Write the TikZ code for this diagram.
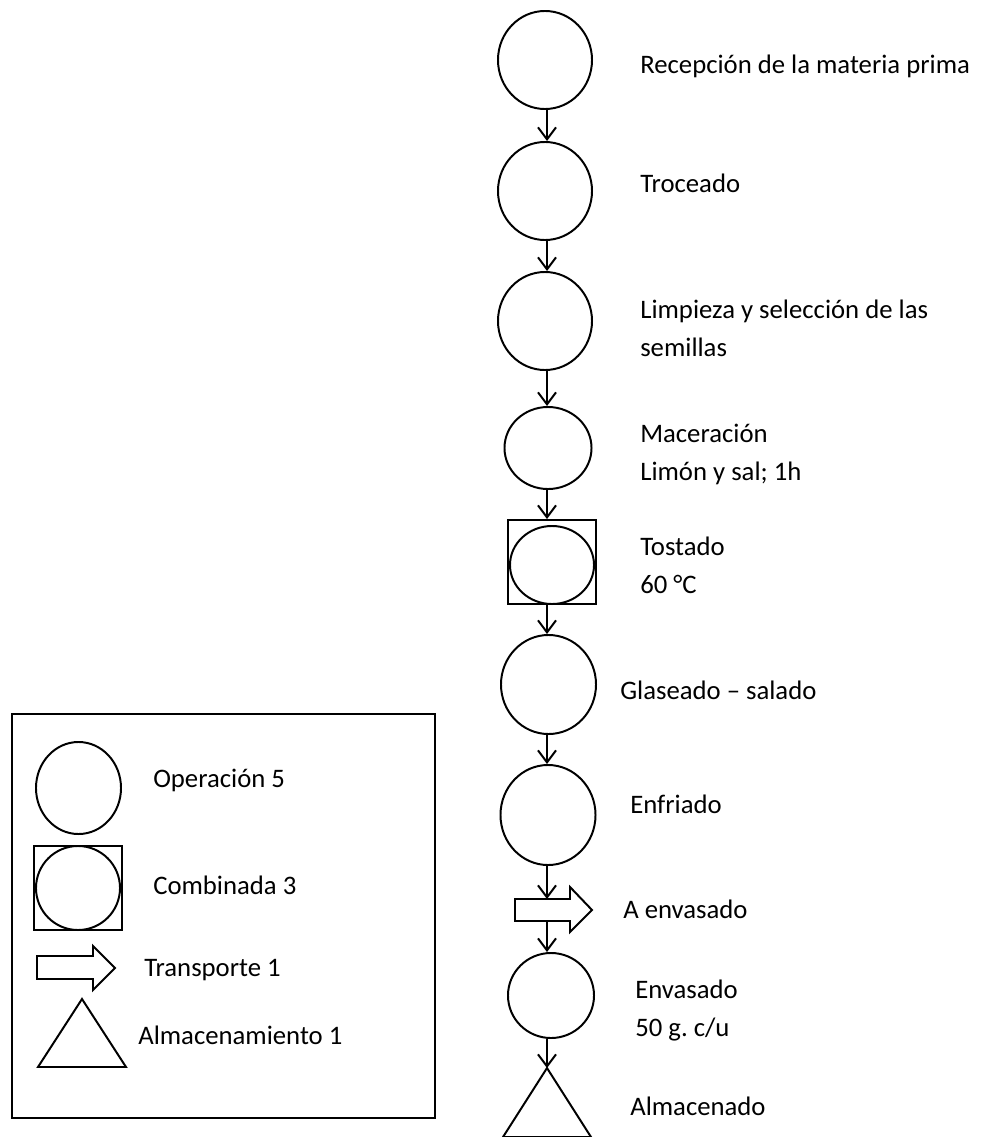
\documentclass[tikz,border=0pt]{standalone}
\usepackage{fontspec}
\setmainfont{Carlito}
\usetikzlibrary{arrows.meta,shapes.geometric}
\frenchspacing
\tikzset{
  oper/.style={draw, ellipse, line width=1.4pt, inner sep=0pt},
  caja/.style={draw, rectangle, line width=1.4pt, inner sep=0pt},
  forma/.style={draw, line width=1.4pt, line join=miter},
  flecha/.style={line width=1.4pt, -{Straight Barb[length=0.3cm,width=0.45cm]}},
  etiq/.style={anchor=base west, inner sep=0pt, align=left,
    font=\fontsize{19}{27}\selectfont},
}
\begin{document}
\begin{tikzpicture}[x=0.025cm, y=-0.025cm]
\useasboundingbox (0,0) rectangle (1006,1137);
\clip (0,0) rectangle (1006,1137);
\coordinate (eje) at (547,0);
% diagrama de flujo
\node[oper, minimum width=2.35cm, minimum height=2.45cm] (recep) at (545,60) {};
\node[oper, minimum width=2.35cm, minimum height=2.45cm] (troc) at (545,191) {};
\node[oper, minimum width=2.35cm, minimum height=2.45cm] (limp) at (545,321) {};
\node[oper, minimum width=2.175cm, minimum height=2.05cm] (mac) at (548,448) {};
\node[caja, minimum width=2.2cm, minimum height=2.1cm] (tost) at (552,562) {};
\node[oper, minimum width=2.1cm, minimum height=1.95cm] (tostc) at (552,565) {};
\node[oper, minimum width=2.375cm, minimum height=2.475cm] (glas) at (548.5,684.5) {};
\node[oper, minimum width=2.375cm, minimum height=2.5cm] (enfr) at (548,815) {};
\draw[forma] (515,899) -- (570,899) -- (570,887) -- (592,910) -- (570,932) -- (570,921) -- (515,921) -- cycle;
\coordinate (transIn) at (547,899);
\coordinate (transOut) at (547,921);
\node[oper, minimum width=2.15cm, minimum height=2.125cm] (envas) at (551,995.5) {};
\draw[forma] (547,1068) -- (591,1137) -- (503,1137) -- cycle;
\coordinate (almac) at (547,1068);
\foreach \a/\b in {recep/troc, troc/limp, limp/mac, mac/tost, tost/glas, glas/enfr}
  \draw[flecha] (\a.south -| eje) -- (\b.north -| eje);
\draw[flecha] (enfr.south -| eje) -- (transIn);
\draw[flecha] (transOut) -- (envas.north -| eje);
\draw[flecha] (envas.south -| eje) -- (almac);
% textos
\node[etiq] (tRecep) at (640,73) {Recepción de la materia prima};
\node[etiq] (tTroc) at (640,192) {Troceado};
\node[etiq] (tLimp) at (640,356) {Limpieza y selección de las\\semillas};
\node[etiq] (tMac) at (640,480) {Maceración\\Limón y sal; 1h};
\node[etiq] (tTost) at (640,593) {Tostado\\60 °C};
\node[etiq] (tGlas) at (620,699) {Glaseado – salado};
\node[etiq] (tEnfr) at (630,813) {Enfriado};
\node[etiq] (tTrans) at (623,918) {A envasado};
\node[etiq] (tEnvas) at (635,1036) {Envasado\\50 g. c/u};
\node[etiq] (tAlmac) at (630,1115) {Almacenado};
% leyenda
\node[caja, minimum width=10.575cm, minimum height=10.1cm] (leyenda) at (223.5,916) {};
\node[oper, minimum width=2.125cm, minimum height=2.3cm] (lOper) at (78.5,788) {};
\node[caja, minimum width=2.2cm, minimum height=2.1cm] (lComb) at (78,888) {};
\node[oper, minimum width=2.1cm, minimum height=2.1cm] (lCombc) at (78,888) {};
\draw[forma] (37,956) -- (93,956) -- (93,946) -- (115,968) -- (93,990) -- (93,979) -- (37,979) -- cycle;
\draw[forma] (82,999) -- (126,1067) -- (38,1067) -- cycle;
\node[etiq] (tlOper) at (153,787) {Operación 5};
\node[etiq] (tlComb) at (153,894) {Combinada 3};
\node[etiq] (tlTrans) at (144,976) {Transporte 1};
\node[etiq] (tlAlmac) at (138,1044) {Almacenamiento 1};
\end{tikzpicture}
\end{document}
